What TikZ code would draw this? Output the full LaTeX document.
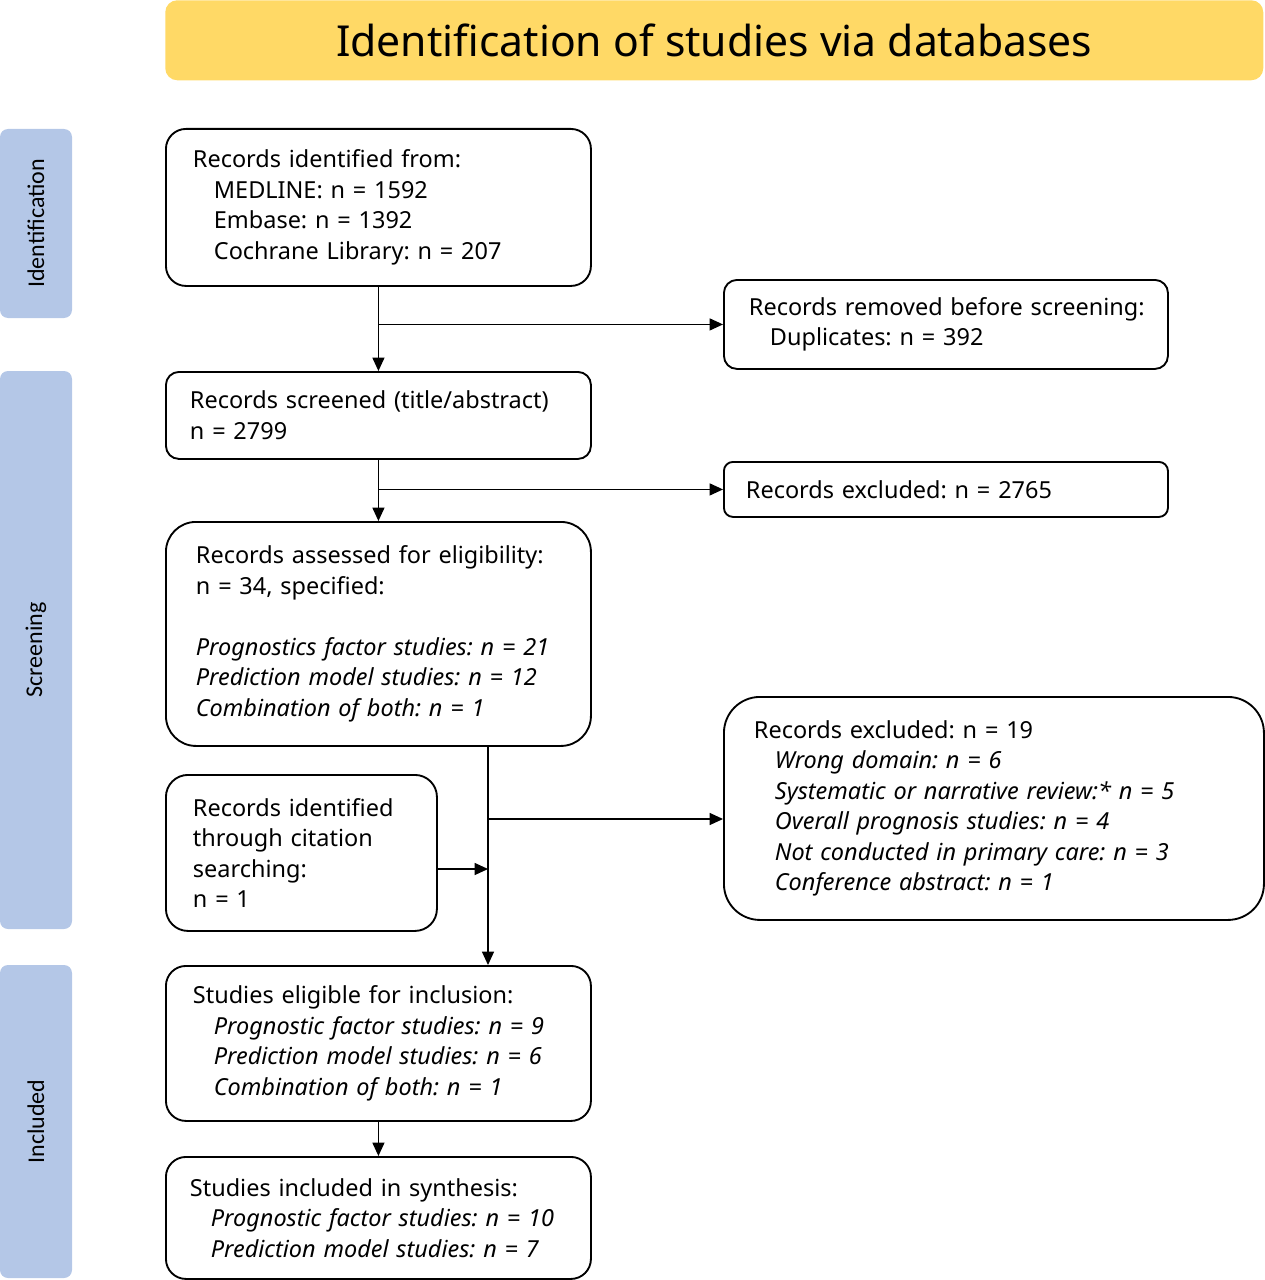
\documentclass[tikz,border=0pt]{standalone}
\usepackage{fontspec}
\setmainfont{Noto Sans}
\newfontfamily\sidefont{Carlito}
\usetikzlibrary{arrows.meta}
\frenchspacing
\definecolor{titleyellow}{HTML}{FFD966}
\definecolor{sideblue}{HTML}{B4C7E7}
\newcommand\pbox[8]{%
  \pgfmathsetmacro\pbw{#4*0.75}\pgfmathsetmacro\pbh{#5*0.75}%
  \pgfmathsetmacro\pbp{#6*0.75}\pgfmathsetmacro\pbt{(#4-2*#6)*0.75}%
  \pgfmathsetmacro\pbr{#7*0.75}%
  \node[pbox, anchor=north west, minimum width=\pbw pt, minimum height=\pbh pt,
        inner xsep=\pbp pt, text width=\pbt pt, rounded corners=\pbr pt] (#1) at (#2,#3) {#8};}
\newcommand\ind{\hspace*{15.75pt}}
\begin{document}
\begin{tikzpicture}[x=0.75pt,y=-0.75pt,
  pbox/.style={draw, line width=1.4pt, align=left, inner ysep=0pt,
    font=\fontsize{17.6pt}{22.9pt}\selectfont\frenchspacing},
  side/.style={fill=sideblue, rounded corners=6pt, rotate=90, minimum height=54pt,
    inner sep=0pt, font=\sidefont\fontsize{18pt}{20pt}\selectfont},
  arr/.style={line width=0.9pt, -{Triangle[length=10pt,width=9pt]}},
  ln/.style={line width=0.9pt}]
\useasboundingbox (0,0) rectangle (1264,1280);
% title
\node[fill=titleyellow, rounded corners=9pt, minimum width=823.5pt, minimum height=60pt,
  anchor=north west, inner sep=0pt, font=\fontsize{32pt}{36pt}\selectfont] (title) at (165,0)
  {Identification of studies via databases};
% side bars
\node[side, minimum width=141.75pt] (sid) at (36,223.5) {Identification};
\node[side, minimum width=418.5pt] (sscr) at (36,650) {Screening};
\node[side, minimum width=234.75pt] (sinc) at (36,1121.5) {Included};
% boxes
\pbox{A}{165}{128}{425}{157}{27}{20}{Records identified from:\\
  \ind MEDLINE: n = 1592\\ \ind Embase: n = 1392\\ \ind Cochrane Library: n = 207}
\pbox{B}{723}{279}{444}{89}{25}{13}{\mbox{Records removed before screening:}\\
  \ind Duplicates: n = 392}
\pbox{C}{165}{371}{425}{87}{24}{13}{Records screened (title/abstract)\\ n = 2799}
\pbox{D}{723}{461}{444}{55}{22}{9}{Records excluded: n = 2765}
\pbox{E}{165}{521}{425}{224}{30}{30}{Records assessed for eligibility:\\
  n = 34, specified:\\[22.9pt]
  \textit{Prognostics factor studies: n = 21}\\
  \textit{Prediction model studies: n = 12}\\
  \textit{Combination of both: n = 1}}
\pbox{F}{723}{696}{540}{223}{30}{36}{Records excluded: n = 19\\
  \ind\textit{Wrong domain: n = 6}\\
  \ind\textit{Systematic or narrative review:* n = 5}\\
  \ind\textit{Overall prognosis studies: n = 4}\\
  \ind\textit{Not conducted in primary care: n = 3}\\
  \ind\textit{Conference abstract: n = 1}}
\pbox{G}{165}{774}{271}{156}{27}{22}{\mbox{Records identified}\\ through citation\\ searching:\\ n = 1}
\pbox{H}{165}{965}{425}{155}{27}{20}{Studies eligible for inclusion:\\
  \ind\textit{Prognostic factor studies: n = 9}\\
  \ind\textit{Prediction model studies: n = 6}\\
  \ind\textit{Combination of both: n = 1}}
\pbox{I}{165}{1156}{425}{122}{24}{20}{Studies included in synthesis:\\
  \ind\textit{Prognostic factor studies: n = 10}\\
  \ind\textit{Prediction model studies: n = 7}}
% connectors
\coordinate (j) at (488,0);
\coordinate (fy) at (0,819);
\coordinate (gy) at (0,869);
\draw[arr] (A.south) -- (C.north);
\draw[arr] (A.south |- B.west) -- (B.west);
\draw[arr] (C.south) -- (E.north);
\draw[arr] (C.south |- D.west) -- (D.west);
\draw[arr] (E.south -| j) -- (H.north -| j);
\draw[arr] (j |- fy) -- (F.west |- fy);
\draw[arr] (G.east |- gy) -- (j |- gy);
\draw[arr] (H.south) -- (I.north);
\end{tikzpicture}
\end{document}
